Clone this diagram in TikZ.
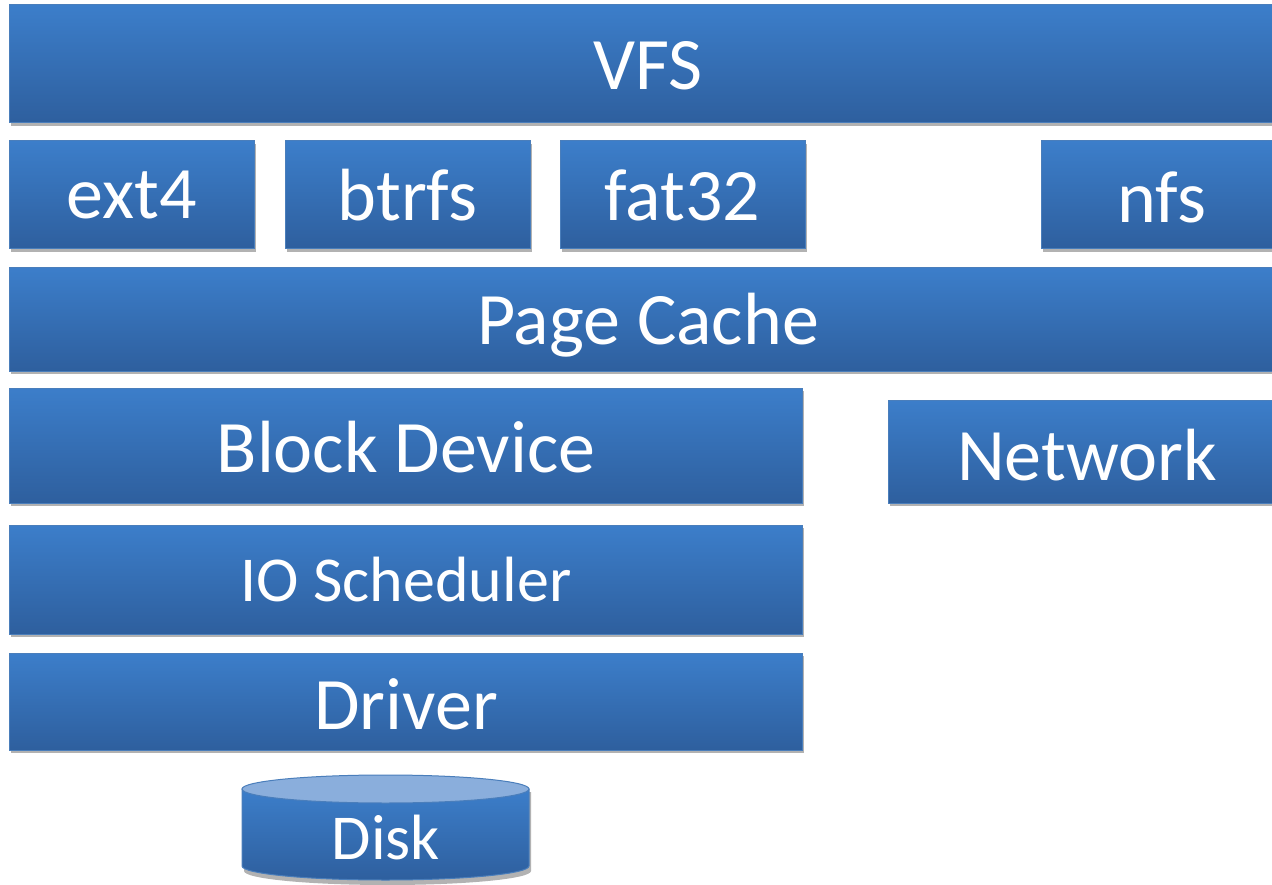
\documentclass[tikz,border=0pt]{standalone}
\usepackage{fontspec}
\setmainfont{Carlito}
\usetikzlibrary{shadows}
\definecolor{boxtop}{RGB}{60,126,202}
\definecolor{boxbot}{RGB}{46,95,158}
\definecolor{boxedge}{RGB}{74,126,187}
\definecolor{disktop}{RGB}{138,174,220}
\tikzset{
  blk/.style={draw=boxedge, line width=1pt, top color=boxtop, bottom color=boxbot,
    inner sep=0pt,
    drop shadow={shadow xshift=2pt, shadow yshift=-3pt, opacity=0.3, fill=black}},
  bigtext/.style={text=white, font=\fontsize{74}{80}\selectfont},
  smalltext/.style={text=white, font=\fontsize{64}{70}\selectfont}
}
\newcommand\mkblk[6][]{%
  \node[blk, #1, minimum width={(#4-#2)*1pt}, minimum height={(#5-#3)*1pt}]
    (#6) at ({(#2+#4)/2},{(#3+#5)/2}) {};}
\begin{document}
\begin{tikzpicture}[x=1pt,y=-1pt]
\useasboundingbox (0,0) rectangle (1272,885);
\fill[white] (0,0) rectangle (1272,885);
% boxes
\mkblk{9}{5}{1287}{123}{vfs}
\node[bigtext] (vfsT) at (648,66) {VFS};
\mkblk{9}{141}{254}{249}{ext4}
\node[bigtext] (ext4T) at (ext4) {ext4};
\mkblk{285}{141}{530}{249}{btrfs}
\node[bigtext] (btrfsT) at (btrfs) {btrfs};
\mkblk{560}{141}{805}{249}{fat32}
\node[bigtext] (fat32T) at (fat32) {fat32};
\mkblk{1041}{141}{1285}{249}{nfs}
\node[bigtext] (nfsT) at (1162,197) {nfs};
\mkblk{9}{268}{1287}{371}{pc}
\node[bigtext] (pcT) at (648,325) {Page Cache};
\mkblk{9}{388}{802}{503}{bd}
\node[bigtext] (bdT) at (406,447) {Block Device};
\mkblk{888}{400}{1287}{503}{net}
\node[bigtext] (netT) at (1087,455) {Network};
\mkblk{9}{525}{802}{634}{io}
\node[smalltext] (ioT) at (406,580) {IO Scheduler};
\mkblk{9}{653}{802}{750}{drv}
\node[bigtext] (drvT) at (406,704) {Driver};
% disk cylinder
\fill[black, opacity=0.3] (244,792) -- (244,871) arc[start angle=180, end angle=0, x radius=143.5, y radius=14] -- (531,792) -- cycle;
\draw[boxedge, line width=1pt, top color=boxtop, bottom color=boxbot]
  (242,789) -- (242,866) arc[start angle=180, end angle=0, x radius=143.5, y radius=14]
  -- (529,789) -- cycle;
\draw[boxedge, line width=1pt, fill=disktop] (385.5,789) ellipse[x radius=143.5, y radius=14];
\node[smalltext] (disk) at (386,838) {Disk};
\end{tikzpicture}
\end{document}
